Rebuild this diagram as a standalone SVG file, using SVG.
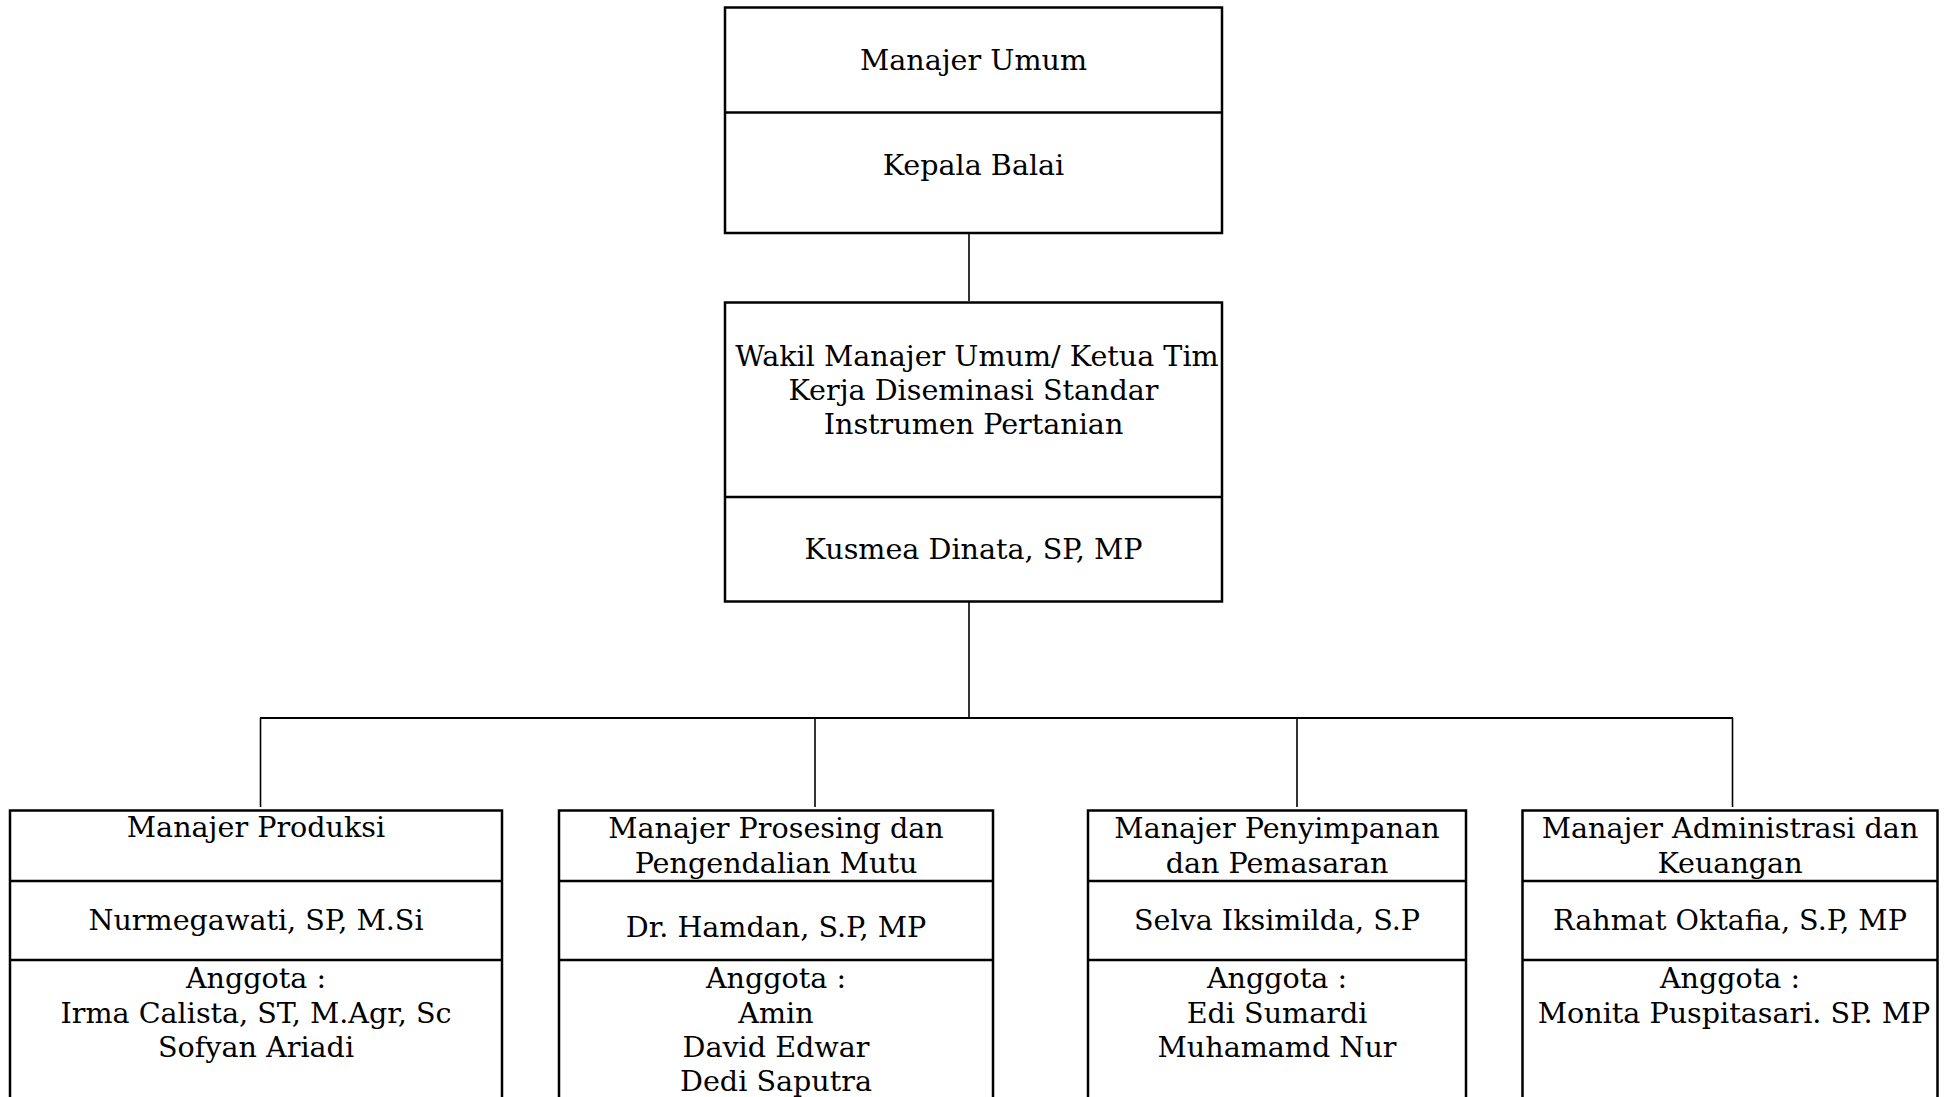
<svg xmlns="http://www.w3.org/2000/svg" width="1953" height="1097" viewBox="0 0 1953 1097">
<style>
.box{fill:#fff;stroke:#000;stroke-width:2.5}
.div{stroke:#000;stroke-width:2.5}
.con{stroke:#000;stroke-width:1.6;fill:none}
.bus{stroke:#000;stroke-width:2.2;fill:none}
text{font-family:"DejaVu Serif","Liberation Serif",serif;font-size:28.6px;fill:#000;text-anchor:middle}
</style>
<rect width="1953" height="1097" fill="#fff"/>
<g id="connectors">
<line class="con" x1="969" y1="233" x2="969" y2="301"/>
<line class="con" x1="969" y1="602" x2="969" y2="719"/>
<line class="bus" x1="260" y1="718" x2="1733" y2="718"/>
<line class="con" x1="260.5" y1="718" x2="260.5" y2="807"/>
<line class="con" x1="815" y1="718" x2="815" y2="807"/>
<line class="con" x1="1297" y1="718" x2="1297" y2="807"/>
<line class="con" x1="1732.5" y1="718" x2="1732.5" y2="807"/>
</g>
<g id="manajer-umum">
<rect class="box" x="725" y="7.5" width="497" height="225.5"/>
<line class="div" x1="725" y1="112.5" x2="1222" y2="112.5"/>
<text x="973.5" y="70">Manajer Umum</text>
<text x="973.5" y="175">Kepala Balai</text>
</g>
<g id="wakil-manajer">
<rect class="box" x="725" y="302.5" width="497" height="299"/>
<line class="div" x1="725" y1="497" x2="1222" y2="497"/>
<text x="977" y="366">Wakil Manajer Umum/ Ketua Tim</text>
<text x="973.5" y="400">Kerja Diseminasi Standar</text>
<text x="973.5" y="434">Instrumen Pertanian</text>
<text x="973.5" y="559">Kusmea Dinata, SP, MP</text>
</g>
<g id="manajer-produksi">
<rect class="box" x="10" y="810.5" width="492" height="300"/>
<line class="div" x1="10" y1="881" x2="502" y2="881"/>
<line class="div" x1="10" y1="960" x2="502" y2="960"/>
<text x="256" y="837">Manajer Produksi</text>
<text x="256" y="930">Nurmegawati, SP, M.Si</text>
<text x="256" y="988">Anggota :</text>
<text x="256" y="1022.5">Irma Calista, ST, M.Agr, Sc</text>
<text x="256" y="1057">Sofyan Ariadi</text>
</g>
<g id="manajer-prosesing">
<rect class="box" x="559" y="810.5" width="434" height="300"/>
<line class="div" x1="559" y1="881" x2="993" y2="881"/>
<line class="div" x1="559" y1="960" x2="993" y2="960"/>
<text x="776" y="837.5">Manajer Prosesing dan</text>
<text x="776" y="872.5">Pengendalian Mutu</text>
<text x="776" y="937">Dr. Hamdan, S.P, MP</text>
<text x="776" y="988">Anggota :</text>
<text x="776" y="1022.5">Amin</text>
<text x="776" y="1057">David Edwar</text>
<text x="776" y="1091">Dedi Saputra</text>
</g>
<g id="manajer-penyimpanan">
<rect class="box" x="1088" y="810.5" width="378" height="300"/>
<line class="div" x1="1088" y1="881" x2="1466" y2="881"/>
<line class="div" x1="1088" y1="960" x2="1466" y2="960"/>
<text x="1277" y="837.5">Manajer Penyimpanan</text>
<text x="1277" y="872.5">dan Pemasaran</text>
<text x="1277" y="930">Selva Iksimilda, S.P</text>
<text x="1277" y="988">Anggota :</text>
<text x="1277" y="1022.5">Edi Sumardi</text>
<text x="1277" y="1057">Muhamamd Nur</text>
</g>
<g id="manajer-administrasi">
<rect class="box" x="1522.5" y="810.5" width="415" height="300"/>
<line class="div" x1="1522.5" y1="881" x2="1937.5" y2="881"/>
<line class="div" x1="1522.5" y1="960" x2="1937.5" y2="960"/>
<text x="1730" y="837.5">Manajer Administrasi dan</text>
<text x="1730" y="872.5">Keuangan</text>
<text x="1730" y="930">Rahmat Oktafia, S.P, MP</text>
<text x="1730" y="988">Anggota :</text>
<text x="1734" y="1022.5">Monita Puspitasari. SP. MP</text>
</g>
</svg>
